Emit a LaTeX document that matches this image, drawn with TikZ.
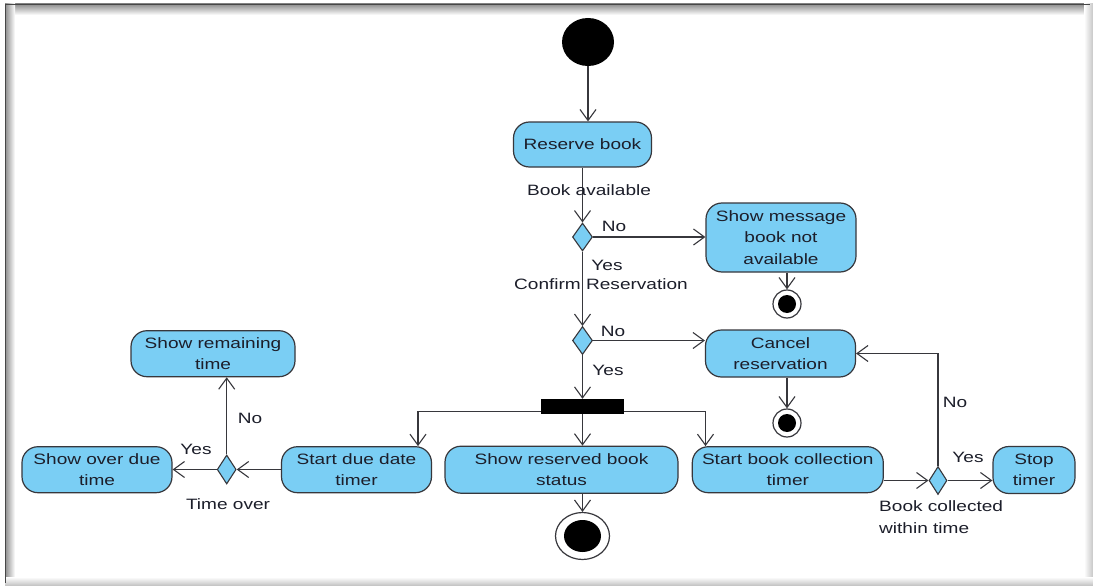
\documentclass[tikz,border=0pt]{standalone}
\usepackage{fontspec}
\setmainfont{Liberation Sans}[FakeStretch=1.27]
\usetikzlibrary{arrows.meta,shapes.geometric}

\definecolor{actfill}{RGB}{122,206,244}
\definecolor{actline}{RGB}{55,55,60}
\definecolor{ink}{RGB}{28,30,42}

\tikzset{
  txt/.style={font=\fontsize{15}{21.5}\selectfont, text=ink, inner sep=0pt},
  activity/.style={txt, draw=actline, fill=actfill, line width=1.2pt,
    rounded corners=16pt, align=center},
  decision/.style={diamond, draw=actline, fill=actfill, line width=1.1pt,
    minimum width=20pt, minimum height=28pt, inner sep=0pt},
  forkbar/.style={rectangle, fill=black, minimum width=83pt, minimum height=15pt, inner sep=0pt},
  initial/.style={ellipse, fill=black, minimum width=52pt, minimum height=48pt, inner sep=0pt},
  finalsmall/.style={circle, draw=actline, fill=white, line width=1.2pt, minimum size=28pt, inner sep=0pt,
    path picture={\fill[black] (path picture bounding box.center) circle (9pt);}},
  finalbig/.style={ellipse, draw=actline, fill=white, line width=1.2pt,
    minimum width=54pt, minimum height=47pt, inner sep=0pt,
    path picture={\fill[black] (path picture bounding box.center) ellipse [x radius=18.5pt, y radius=16pt];}},
  flow/.style={draw=actline, line width=1.1pt, -{Straight Barb[length=11pt,width=16pt]}},
  guard/.style={txt},
}

\begin{document}
\begin{tikzpicture}[x=1pt, y=-1pt]
  \useasboundingbox (0,0) rectangle (1093,586);
  \fill[white] (0,0) rectangle (1093,586);

  % sunken frame around the sheet
  \shade[top color=black!45, bottom color=white] (5,4) rectangle (1090,15);
  \shade[left color=black!45, right color=white] (5,4) rectangle (15,583);
  \shade[left color=white, right color=black!22] (1084,4) rectangle (1093,586);
  \shade[top color=white, bottom color=black!25] (5,577) rectangle (1093,586);
  \draw[black!72, line width=1.6pt] (5.5,583) -- (5.5,4.5) -- (1090,4.5);

  % activities
  \node[initial] (start) at (588,42) {};
  \node[activity, minimum width=138pt, minimum height=45pt] (reserve) at (582.5,144.5) {Reserve book};
  \node[decision] (d1) at (582.5,237) {};
  \node[activity, minimum width=150pt, minimum height=69pt] (showmsg) at (781,237.5) {Show message\\book not\\available};
  \node[finalsmall] (end1) at (787,304) {};
  \node[decision] (d2) at (582.5,340.5) {};
  \node[activity, minimum width=150pt, minimum height=47pt] (cancel) at (780.5,353.5) {Cancel\\reservation};
  \node[finalsmall] (end2) at (787,423) {};
  \node[forkbar] (fork) at (582.5,406.5) {};
  \node[activity, minimum width=150pt, minimum height=46pt] (startdue) at (356.5,469.7) {Start due date\\timer};
  \node[activity, minimum width=233pt, minimum height=47pt] (showres) at (561.5,469.7) {Show reserved book\\status};
  \node[activity, minimum width=191pt, minimum height=46pt] (startcoll) at (787.8,469.7) {Start book collection\\timer};
  \node[finalbig] (final) at (582.5,536) {};
  \node[decision, minimum width=19pt, minimum height=29pt] (d3) at (226.7,469.5) {};
  \node[activity, minimum width=150pt, minimum height=46pt] (overdue) at (97,469.7) {Show over due\\time};
  \node[activity, minimum width=164pt, minimum height=46pt] (remaining) at (213,353.7) {Show remaining\\time};
  \node[decision, minimum width=18pt, minimum height=28pt] (d4) at (938,480.5) {};
  \node[activity, minimum width=82pt, minimum height=47pt] (stop) at (1034,470) {Stop\\timer};

  % fork branch corners
  \coordinate (fl) at (418,411.5);
  \coordinate (fr) at (705.5,411.5);

  % control flows
  \draw[flow] (start) -- (start |- reserve.north);
  \draw[flow] (reserve.south) -- (d1.north);
  \draw[flow] (d1.east) -- (d1.east -| showmsg.west);
  \draw[flow] (end1 |- showmsg.south) -- (end1.north);
  \draw[flow] (d1.south) -- (d2.north);
  \draw[flow] (d2.east) -- (d2.east -| cancel.west);
  \draw[flow] (end2 |- cancel.south) -- (end2.north);
  \draw[flow] (d2.south) -- (fork.north);
  \draw[flow] (fork.west |- fl) -- (fl) -- (fl |- startdue.north);
  \draw[flow] (fork.south) -- (fork.south |- showres.north);
  \draw[flow] (fork.east |- fr) -- (fr) -- (fr |- startcoll.north);
  \draw[flow] (final |- showres.south) -- (final.north);
  \draw[flow] (startdue.west |- d3.east) -- (d3.east);
  \draw[flow] (d3.west) -- (d3.west -| overdue.east);
  \draw[flow] (d3.north) -- (d3.north |- remaining.south);
  \draw[flow] (startcoll.east |- d4.west) -- (d4.west);
  \draw[flow] (d4.east) -- (d4.east -| stop.west);
  \draw[flow] (d4.north) |- (cancel.east);

  % guards and notes
  \node[guard] (lba) at (589,190) {Book available};
  \node[guard] (ln1) at (614,226) {No};
  \node[guard] (ly1) at (607,265) {Yes};
  \node[guard] (lcr) at (601,284) {Confirm Reservation};
  \node[guard] (ln2) at (613,331) {No};
  \node[guard] (ly2) at (608,370) {Yes};
  \node[guard] (ln3) at (250,418) {No};
  \node[guard] (ly3) at (196,449) {Yes};
  \node[guard] (lto) at (228,504) {Time over};
  \node[guard] (ln4) at (955,402) {No};
  \node[guard] (ly4) at (968,457) {Yes};
  \node[guard, align=left, anchor=west] (lbc) at (879,517) {Book collected\\within time};
\end{tikzpicture}
\end{document}
